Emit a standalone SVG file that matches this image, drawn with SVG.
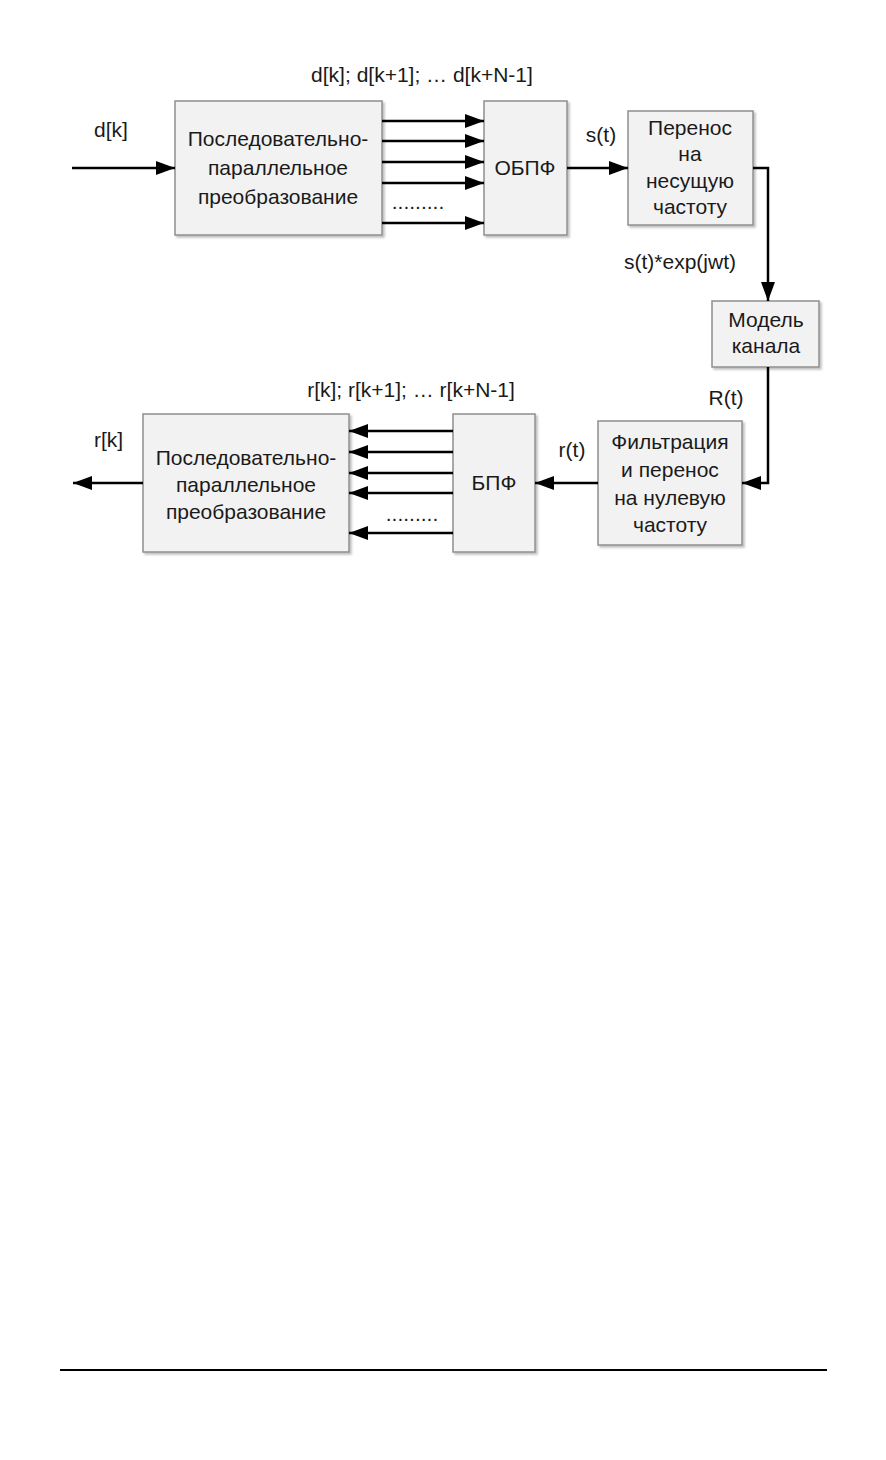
<svg xmlns="http://www.w3.org/2000/svg" width="886" height="1460" viewBox="0 0 886 1460">
<style>
.box{fill:#f2f2f2;stroke:#8f8f8f;stroke-width:1.5;filter:url(#sh)}
.t{font-family:"Liberation Sans",Arial,sans-serif;font-size:21px;fill:#1a1a1a;text-anchor:middle}
.l{font-family:"Liberation Sans",Arial,sans-serif;font-size:21px;fill:#1a1a1a}
.c{fill:none;stroke:#000;stroke-width:2.5;marker-end:url(#ah)}
</style>
<defs>
<marker id="ah" markerUnits="userSpaceOnUse" markerWidth="20" markerHeight="16" refX="19" refY="7" orient="auto">
<path d="M0,0 L19,7 L0,14 z" fill="#000"/>
</marker>
<filter id="sh" x="-10%" y="-10%" width="130%" height="130%">
<feDropShadow dx="2" dy="2" stdDeviation="1.2" flood-color="#000" flood-opacity="0.25"/>
</filter>
</defs>
<rect width="886" height="1460" fill="#fff"/>

<g id="sp1">
<rect class="box" x="175" y="101" width="207" height="134"/>
<text class="t" x="278" y="146">Последовательно-</text>
<text class="t" x="278" y="175">параллельное</text>
<text class="t" x="278" y="204">преобразование</text>
</g>
<g id="obpf">
<rect class="box" x="484" y="101" width="83" height="134"/>
<text class="t" x="525" y="175">ОБПФ</text>
</g>
<g id="carrier">
<rect class="box" x="628" y="111" width="125" height="114"/>
<text class="t" x="690" y="135">Перенос</text>
<text class="t" x="690" y="161">на</text>
<text class="t" x="690" y="188">несущую</text>
<text class="t" x="690" y="214">частоту</text>
</g>
<g id="channel">
<rect class="box" x="712" y="301" width="107" height="66"/>
<text class="t" x="766" y="327">Модель</text>
<text class="t" x="766" y="353">канала</text>
</g>
<g id="filter">
<rect class="box" x="598" y="421" width="144" height="124"/>
<text class="t" x="670" y="449">Фильтрация</text>
<text class="t" x="670" y="477">и перенос</text>
<text class="t" x="670" y="505">на нулевую</text>
<text class="t" x="670" y="532">частоту</text>
</g>
<g id="bpf">
<rect class="box" x="453" y="414" width="82" height="138"/>
<text class="t" x="494" y="490">БПФ</text>
</g>
<g id="sp2">
<rect class="box" x="143" y="414" width="206" height="138"/>
<text class="t" x="246" y="465">Последовательно-</text>
<text class="t" x="246" y="492">параллельное</text>
<text class="t" x="246" y="519">преобразование</text>
</g>

<g id="connectors">
<path class="c" d="M72,168 H175"/>
<path class="c" d="M382,121 H484"/>
<path class="c" d="M382,141 H484"/>
<path class="c" d="M382,162 H484"/>
<path class="c" d="M382,183 H484"/>
<path class="c" d="M382,223 H484"/>
<path class="c" d="M567,168 H628"/>
<path class="c" d="M753,168 H768 V301"/>
<path class="c" d="M768,367 V483 H742"/>
<path class="c" d="M598,483 H535"/>
<path class="c" d="M453,431 H349"/>
<path class="c" d="M453,452 H349"/>
<path class="c" d="M453,473 H349"/>
<path class="c" d="M453,493 H349"/>
<path class="c" d="M453,533 H349"/>
<path class="c" d="M143,483 H73"/>
</g>

<g id="labels">
<text class="l" x="94" y="137">d[k]</text>
<text class="t" x="422" y="82">d[k]; d[k+1]; … d[k+N-1]</text>
<text class="t" x="418" y="209">.........</text>
<text class="t" x="601" y="142">s(t)</text>
<text class="t" x="680" y="269">s(t)*exp(jwt)</text>
<text class="t" x="726" y="405">R(t)</text>
<text class="t" x="572" y="457">r(t)</text>
<text class="t" x="411" y="397">r[k]; r[k+1]; … r[k+N-1]</text>
<text class="t" x="412" y="521">.........</text>
<text class="l" x="94" y="447">r[k]</text>
</g>

<line x1="60" y1="1370" x2="827" y2="1370" stroke="#000" stroke-width="2"/>
</svg>
